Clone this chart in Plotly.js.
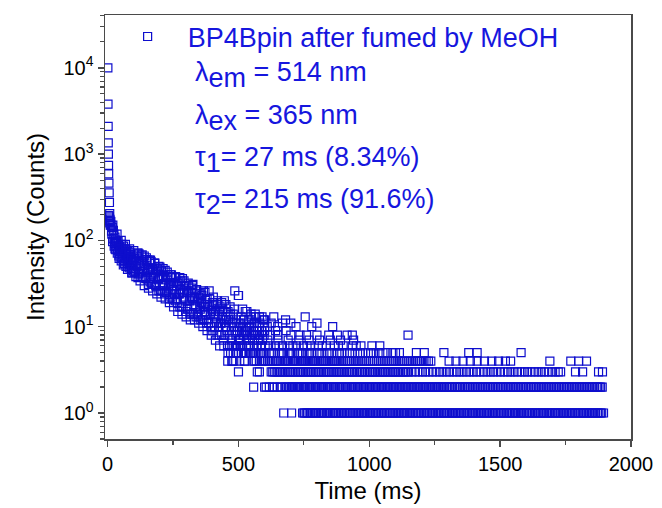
<!DOCTYPE html>
<html>
<head>
<meta charset="utf-8">
<script src="https://cdn.plot.ly/plotly-3.0.1.min.js"></script>
<style>html,body{margin:0;padding:0;background:#fff;}#chart{width:662px;height:508px;}</style>
</head>
<body>
<div id="chart"></div>
<script>
// ---- data ----
const seriesName = 'BP4Bpin after fumed by MeOH';

// initial spike (time in ms, counts)
const tPeak = [1, 1.5, 2, 2.5, 3, 3.5, 4, 5, 6, 7, 8];
const yPeak = [10000, 3800, 2100, 1350, 1000, 740, 590, 460, 355, 275, 205];
const tHead = [4, 5, 6, 7, 8, 9, 10, 11];
const yHead = [195, 182, 170, 188, 160, 176, 150, 168];

// fast part of the decay
const tFast = [12,15,18,21,24,27,30,33,36,39,42,45,48,51,54,57,60,63,66,69,72,75,78,81,84,87,90,93,96,99];
const yFast = [165,128,142,104,118,92,101,84,96,77,88,70,82,64,90,68,75,58,80,62,71,55,74,60,52,69,47,63,56,44];
const tFast2 = [13,16,19,22,25,28,31,34,37,40,43,46,49,52,55,58,61,64,67,70,73,76,79,82,85,88,91,94,97,100];
const yFast2 = [150,118,97,131,86,109,78,94,71,99,66,85,74,58,79,61,86,54,70,50,77,59,66,48,72,55,61,42,66,51];

// slow part of the decay
const tSlow = [102,106,110,114,118,122,126,130,134,138,
  142,146,150,154,158,162,166,170,174,178,
  182,186,190,194,198,202,206,210,214,218,
  222,226,230,234,238,242,246,250,254,258,
  262,266,270,274,278,282,286,290,294,298,
  302,306,310,314,318,322,326,330,334,338,
  342,346,350,354,358,362,366,370,374,378,
  382,386,390,394,398,402,406,410,414,418,
  422,426,430,434,438,442,446,450,454,458,
  462,466,470,474,478,482,486,490,494,498,
  502,506,510,514,518,522,526,530,534,538,
  542,546,550,554,558,562,566,570,574,578,
  582,586,590,594,598];
const ySlow = [62,44,58,70,41,53,49,66,38,55,
  51,36,60,43,48,33,57,40,46,31,
  42,29,47,35,38,26,44,31,37,24,
  35,25,40,28,32,22,37,27,30,20,
  30,19,33,24,27,17,36,22,25,15,
  26,16,29,20,22,14,31,18,21,13,
  20,13,24,16,19,12,26,15,17,11,
  18,11,21,14,16,9,19,13,15,8,
  14,8,17,11,13,7,20,10,12,6,
  12,6,14,9,11,4,26,8,10,5,
  11,7,13,8,10,4,15,7,9,6,
  10,5,12,7,9,4,13,6,8,5,
  11,6,9,5,8];
const tSlow2 = [104,108,112,116,120,124,128,132,136,140,
  144,148,152,156,160,164,168,172,176,180,
  184,188,192,196,200,204,208,212,216,220,
  224,228,232,236,240,244,248,252,256,260,
  264,268,272,276,280,284,288,292,296,300,
  304,308,312,316,320,324,328,332,336,340,
  344,348,352,356,360,364,368,372,376,380,
  384,388,392,396,400,404,408,412,416,420,
  424,428,432,436,440,444,448,452,456,460,
  464,468,472,476,480,484,488,492,496,500,
  504,508,512,516,520,524,528,532,536,540,
  544,548,552,556,560,564,568,572,576,580,
  584,588,592,596,600];
const ySlow2 = [43,66,50,37,70,54,38,58,44,66,
  37,57,43,31,59,45,32,47,36,54,
  30,47,36,26,49,37,26,39,30,45,
  25,38,29,21,40,30,21,32,24,37,
  21,32,24,17,34,25,17,26,20,30,
  17,26,20,14,28,21,14,22,17,26,
  14,22,17,12,23,17,12,18,14,21,
  12,18,14,10,19,14,10,15,11,18,
  10,15,11,8,16,12,8,13,9,15,
  8,13,10,7,14,10,6,12,9,23,
  7,11,9,6,12,9,5,10,8,12,
  6,10,8,5,11,8,4,9,7,10,
  5,9,7,4,10];
// upper and lower edge of the scatter band
const tEdge = [20,28,36,44,52,60,68,76,84,92,100,108,116,124,132,140,148,156,164,172,
  180,188,196,204,212,220,228,236,244,252,260,268,276,284,292,300,308,316,324,332,
  340,348,356,364,372,380,388,396,404,412,420,428,436,444,452,460,468,476,484,492,
  500,508,516,524,532,540,548,556,564,572,580,588,596];
const yEdge = [150,80,118,62,100,52,90,46,80,42,76,38,72,34,68,30,63,28,59,26,
  55,24,50,22,47,21,43,19,40,17,38,15,37,14,34,13,32,12,30,12,
  27,11,24,10,25,9,26,8,22,7,20,6,19,6,18,5,17,4,16,5,
  23,6,16,4,15,5,14,4,14,3,13,4,12];

// tail: times (ms) at which the count equals a given integer
const timesCount1 = [673,703,745,753,764,776,789,799,812,823,836,846,859,871,882,894,905,918,929,941,953,964,977,988,1000,1011,1024,1035,1047,1058,1071,1082,1094,1106,1117,1130,1141,1153,1164,1177,1188,1200,1212,1223,1236,1247,1259,1270,1283,1294,1306,1318,1329,1342,1353,1365,1376,1389,1400,1412,1424,1435,1448,1459,1471,1482,1495,1506,1518,1530,1541,1554,1565,1577,1588,1601,1612,1624,1636,1647,1660,1671,1683,1694,1707,1718,1730,1742,1753,1766,1777,1789,1800,1813,1824,1836,1848,1859,1872,1883,1895];
const timesCount1b = [750,759,770,782,794,805,817,829,841,852,864,876,888,899,911,923,935,946,958,970,982,994,1005,1017,1029,1041,1052,1064,1076,1088,1099,1111,1123,1135,1147,1158,1170,1182,1194,1206,1217,1229,1241,1253,1264,1276,1288,1300,1312,1323,1335,1347,1359,1370,1382,1394,1406,1418,1429,1441,1453,1465,1476,1488,1500,1512,1524,1535,1547,1559,1571,1582,1594,1606,1618,1630,1641,1653,1665,1677,1688,1700,1712,1724,1736,1747,1759,1771,1783,1794,1806,1818,1830,1841,1853,1865,1877,1888];
const timesCount2 = [558,600,630,660,678,690,703,712,725,735,748,758,771,781,794,804,817,826,840,850,863,872,886,896,909,918,932,942,955,965,978,988,1001,1011,1024,1034,1047,1057,1070,1080,1093,1103,1116,1126,1139,1149,1162,1172,1185,1195,1208,1218,1231,1241,1254,1264,1277,1287,1300,1312,1325,1338,1349,1363,1375,1388,1400,1413,1426,1438,1451,1463,1476,1489,1501,1514,1526,1539,1552,1564,1577,1589,1602,1615,1627,1640,1652,1665,1678,1690,1703,1715,1728,1741,1753,1766,1778,1791,1804,1816,1829,1841,1854,1867,1878,1890];
const timesCount2b = [606,618,636,648,666,684,696,707,719,730,742,753,765,776,788,799,811,822,834,845,857,868,880,891,903,914,926,937,949,960,972,983,995,1006,1018,1029,1041,1052,1064,1075,1087,1098,1110,1121,1133,1144,1156,1167,1179,1190,1202,1213,1225,1236,1248,1259,1271,1282,1294,1306,1318,1331,1344,1356,1369,1381,1394,1407,1419,1432,1444,1457,1470,1482,1495,1507,1520,1533,1545,1558,1570,1583,1596,1608,1621,1633,1646,1659,1671,1684,1696,1709,1722,1734,1747,1759,1772,1785,1797,1810,1822,1835,1848,1860,1872,1884];
const timesCount3 = [500,580,625,637,650,661,674,688,699,712,726,737,749,763,774,788,800,811,825,838,849,862,876,887,899,913,925,936,950,963,974,987,1001,1012,1024,1038,1050,1061,1075,1088,1099,1112,1126,1138,1150,1176,1203,1228,1255,1281,1306,1333,1358,1384,1410,1437,1462,1488,1515,1541,1566,1593,1618,1645,1670,1697,1722,1731,1788,1815,1876,1891];
const timesCount3b = [631,644,656,668,681,694,705,719,731,743,756,769,781,794,806,818,831,843,856,869,881,893,906,919,931,943,956,969,981,994,1006,1018,1031,1044,1056,1068,1081,1094,1106,1118,1131,1144,1163,1190,1215,1242,1268,1294,1320,1346,1371,1397,1423,1450,1475,1501,1528,1553,1580,1605,1632,1657,1684,1710];
const timesCount4 = [459,475,505,580,596,611,624,640,652,667,680,693,707,721,735,748,763,776,790,804,818,832,846,860,874,888,902,917,931,946,960,975,990,1005,1020,1036,1052,1068,1085,1101,1118,1134,1151,1167,1184,1200,1217,1235,1305,1331,1358,1386,1412,1440,1468,1494,1520,1540,1690,1770,1800,1830];
const timesCount4b = [603,617,632,646,660,674,687,700,714,728,741,756,769,783,797,811,825,839,853,867,881,895,910,924,939,953,968,983,998,1013,1028,1044,1060,1076,1093,1110,1126,1143,1159,1176,1192,1209,1226];
const timesCount5 = [470,490,512,530,548,566,585,601,618,636,655,672,690,708,726,745,762,781,800,819,838,857,876,895,915,935,955,975,996,1016,1040,1064,1090,1115,1180,1210,1285,1380,1412,1580];
const timesCount5b = [480,521,557,594,627,664,699,735,771,809,847,886,925,965,1005,1052,1100];
const timesCount6 = [480,506,531,560,588,615,641,668,695,721,748,776,805,836,866,900,935,968,1010,1040];
const timesCount6b = [493,545,602,655,708,762,820,882,950];
const timesCount7 = [500,540,576,612,651,690,731,770,810,851,890,940];
const timesCount8 = [560,622,700,735,760,845,878,915,935,1148];
const timesCount8b = [520,580,650,800];
const timesCount9 = [530,600,642,682];
const timesCount10 = [540,610,650,720,780,860];
const timesCount11 = [560,625,668,700,800];
const timesCount12 = [520,600,680];
const timesCount13 = [547,590,635,755];
const tailCounts = [1,1,2,2,3,3,4,4,5,5,6,6,7,8,8,9,10,11,12,13];
const tailTimes = [timesCount1,timesCount1b,timesCount2,timesCount2b,timesCount3,timesCount3b,timesCount4,timesCount4b,
  timesCount5,timesCount5b,timesCount6,timesCount6b,timesCount7,timesCount8,timesCount8b,timesCount9,timesCount10,
  timesCount11,timesCount12,timesCount13];

// axis ticks
const xTickVals = [0,500,1000,1500,2000];
const xTickText = ['0','500','1000','1500','2000'];
const xMinorVals = [250,750,1250,1750];
const yTickVals = [1,10,100,1000,10000];
const yTickText = ['10<sup>0</sup>','10<sup>1</sup>','10<sup>2</sup>','10<sup>3</sup>','10<sup>4</sup>'];
const yMinorVals = [0.5,0.6,0.7,0.8,0.9,2,3,4,5,6,7,8,9,20,30,40,50,60,70,80,90,200,300,400,500,600,700,800,900,2000,3000,4000,5000,6000,7000,8000,9000,20000,30000,40000];

// annotation texts
const infoLines = [
  'λ<sub><span style="font-size:27px">em</span></sub> = 514 nm',
  'λ<sub><span style="font-size:27px">ex</span></sub> = 365 nm',
  'τ<sub><span style="font-size:27px">1</span></sub>= 27 ms (8.34%)',
  'τ<sub><span style="font-size:27px">2</span></sub>= 215 ms (91.6%)'
];

// ---- build ----
let xs = [].concat(tPeak, tHead, tFast, tFast2, tSlow, tSlow2, tEdge);
let ys = [].concat(yPeak, yHead, yFast, yFast2, ySlow, ySlow2, yEdge);
tailTimes.forEach((arr, i) => { arr.forEach(t => { xs.push(t); ys.push(tailCounts[i]); }); });

const FONT = 'Liberation Sans, Arial, sans-serif';
const BLUE = 'rgb(22,22,222)';
const MARK = 'rgb(14,14,205)';
const AX = '#4a4a4a';

const trace = {
  x: xs, y: ys, type: 'scatter', mode: 'markers', name: seriesName,
  marker: {symbol: 'square-open', size: 8, color: MARK, line: {width: 1.2}}
};

const lineY = [0.858, 0.757, 0.657, 0.559];
const annotations = infoLines.map((txt, i) => ({
  xref: 'paper', yref: 'paper', x: 0.168, y: lineY[i], xanchor: 'left', yanchor: 'middle',
  text: txt, showarrow: false, font: {family: FONT, size: 27, color: BLUE}
}));

const layout = {
  width: 662, height: 508,
  margin: {l: 105, r: 31, t: 15, b: 69},
  paper_bgcolor: '#ffffff', plot_bgcolor: '#ffffff',
  showlegend: true,
  legend: {x: 0.005, y: 1.006, xanchor: 'left', yanchor: 'top', bgcolor: 'rgba(0,0,0,0)',
    itemwidth: 70, font: {family: FONT, size: 27, color: BLUE}},
  font: {family: FONT, color: '#000'},
  xaxis: {
    range: [-10, 2000], tickmode: 'array', tickvals: xTickVals, ticktext: xTickText,
    ticks: 'outside', ticklen: 6, tickwidth: 1.5, tickcolor: AX,
    showline: true, linecolor: AX, linewidth: 1.5, mirror: true,
    showgrid: false, zeroline: false,
    tickfont: {family: FONT, size: 20, color: '#000'},
    minor: {tickmode: 'array', tickvals: xMinorVals, ticks: 'outside', ticklen: 4, tickwidth: 1.2, tickcolor: AX, showgrid: false},
    title: {text: 'Time (ms)', font: {family: FONT, size: 24, color: '#000'}, standoff: 8}
  },
  yaxis: {
    type: 'log', range: [-0.301, 4.612], tickmode: 'array', tickvals: yTickVals, ticktext: yTickText,
    ticks: 'outside', ticklen: 6, tickwidth: 1.5, tickcolor: AX,
    showline: true, linecolor: AX, linewidth: 1.5, mirror: true,
    showgrid: false, zeroline: false,
    tickfont: {family: FONT, size: 20, color: '#000'},
    minor: {tickmode: 'array', tickvals: yMinorVals, ticks: 'outside', ticklen: 3.5, tickwidth: 1.2, tickcolor: AX, showgrid: false},
    title: {text: 'Intensity (Counts)', font: {family: FONT, size: 24, color: '#000'}, standoff: 12}
  },
  annotations: annotations
};

Plotly.newPlot('chart', [trace], layout, {displayModeBar: false, staticPlot: true});
</script>
</body>
</html>
